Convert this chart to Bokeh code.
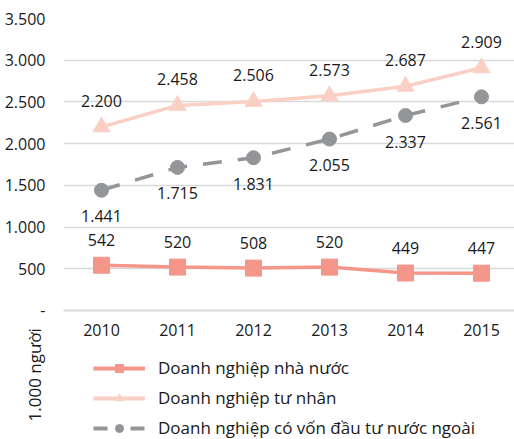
from bokeh.plotting import figure
from bokeh.models import Range1d, Legend, LegendItem, Title, ColumnDataSource, FixedTicker, Span
from bokeh.layouts import column
from bokeh.core.properties import value
from bokeh.embed import file_html
from bokeh.resources import INLINE

years = [2010, 2011, 2012, 2013, 2014, 2015]
year_labels = ["2010", "2011", "2012", "2013", "2014", "2015"]
soe = [542, 520, 508, 520, 449, 447]
private = [2200, 2458, 2506, 2573, 2687, 2909]
fdi = [1441, 1715, 1831, 2055, 2337, 2561]
y_ticks = [0, 500, 1000, 1500, 2000, 2500, 3000, 3500]
y_tick_labels = ["-", "500", "1.000", "1.500", "2.000", "2.500", "3.000", "3.500"]
series_names = ["Doanh nghiệp nhà nước", "Doanh nghiệp tư nhân", "Doanh nghiệp có vốn đầu tư nước ngoài"]
y_title = "1.000 người"

FONT = "Open Sans"
FS = "16px"
TXT = "#1A1A1A"
GRID = "#D9D9D9"
C_SOE = "#F4978A"
C_PRIV = "#FAD0C4"
C_FDI = "#939598"

def fmt(v):
    return f"{v:,}".replace(",", ".")

xr = Range1d(2009.5, 2015.434)

# ---- main chart ----
p = figure(width=514, height=320, output_backend="svg", toolbar_location=None,
           x_range=xr, y_range=Range1d(-120, 3500),
           min_border_left=63, min_border_right=0, min_border_top=18, min_border_bottom=0)
p.outline_line_color = None
p.xaxis.visible = False
p.xgrid.grid_line_color = None
p.ygrid.grid_line_color = GRID
p.ygrid.grid_line_width = 1.5
p.yaxis.ticker = FixedTicker(ticks=y_ticks)
p.yaxis.major_label_overrides = {t: l for t, l in zip(y_ticks, y_tick_labels)}
p.yaxis.axis_line_color = None
p.yaxis.major_tick_line_color = None
p.yaxis.minor_tick_line_color = None
p.yaxis.major_label_standoff = 12
p.yaxis.major_label_text_font = FONT
p.yaxis.major_label_text_font_size = FS
p.yaxis.major_label_text_color = TXT
p.add_layout(Span(location=y_ticks[0], dimension="width", line_color=GRID, line_width=2))

r_soe_l = p.line(years, soe, line_color=C_SOE, line_width=3.5)
r_soe_m = p.scatter(years, soe, marker="square", size=16, fill_color=C_SOE, line_color=C_SOE)
r_pr_l = p.line(years, private, line_color=C_PRIV, line_width=3.5)
r_pr_m = p.scatter(years, private, marker="triangle", size=17, fill_color=C_PRIV, line_color=C_PRIV)
r_fdi_l = p.line(years, fdi, line_color=C_FDI, line_width=3.5, line_dash="19 16")
r_fdi_m = p.scatter(years, fdi, marker="circle", size=14, fill_color=C_FDI, line_color=C_FDI)

def labels(xs, ys, offset):
    src = ColumnDataSource(dict(x=xs, y=ys, t=[fmt(v) for v in ys]))
    p.text(x="x", y="y", text="t", source=src, text_font=value(FONT), text_font_size=FS,
           text_color=TXT, text_align="center", text_baseline="middle", y_offset=offset)

labels(years, soe, -25)
labels(years, private, -26)
labels(years, fdi, 26)

# ---- lower panel: year axis, y-title, legend ----
q = figure(width=514, height=119, output_backend="svg", toolbar_location=None,
           x_range=xr, y_range=Range1d(0, 1), x_axis_location="above", y_axis_location=None,
           min_border_left=63, min_border_right=0, min_border_top=24, min_border_bottom=0)
q.outline_line_color = None
q.grid.grid_line_color = None
q.xaxis.ticker = FixedTicker(ticks=years)
q.xaxis.major_label_overrides = {y: l for y, l in zip(years, year_labels)}
q.xaxis.axis_line_color = None
q.xaxis.major_tick_line_color = None
q.xaxis.minor_tick_line_color = None
q.xaxis.major_label_standoff = 4
q.xaxis.major_label_text_font = FONT
q.xaxis.major_label_text_font_size = FS
q.xaxis.major_label_text_color = TXT

# legend sample glyphs (placed outside the visible range)
off_x = [1990]
off_y = [-5]
d_soe_l = q.line(off_x, off_y, line_color=C_SOE, line_width=4)
d_soe_m = q.scatter(off_x, off_y, marker="square", size=14, fill_color=C_SOE, line_color=C_SOE)
d_pr_l = q.line(off_x, off_y, line_color=C_PRIV, line_width=4)
d_pr_m = q.scatter(off_x, off_y, marker="triangle", size=8, fill_color=C_PRIV, line_color=C_PRIV)
d_fdi_l = q.line(off_x, off_y, line_color=C_FDI, line_width=4, line_dash="14 23")
d_fdi_m = q.scatter(off_x, off_y, marker="circle", size=8, fill_color=C_FDI, line_color=C_FDI)

legend = Legend(items=[
    LegendItem(label=series_names[0], renderers=[d_soe_l, d_soe_m]),
    LegendItem(label=series_names[1], renderers=[d_pr_l, d_pr_m]),
    LegendItem(label=series_names[2], renderers=[d_fdi_l, d_fdi_m]),
], location=(30, 0), orientation="vertical", glyph_width=52, glyph_height=20,
   label_height=20, spacing=7, label_standoff=13, padding=0, margin=0,
   border_line_color=None, background_fill_alpha=0,
   label_text_font=FONT, label_text_font_size="17px", label_text_color=TXT)
q.add_layout(legend, "center")

q.add_layout(Title(text=y_title, align="left", offset=18, standoff=36,
                   text_font=FONT, text_font_size="17px", text_font_style="normal",
                   text_color=TXT), "left")

layout = column(p, q, spacing=0)
open("out.html", "w").write(file_html(layout, INLINE))
